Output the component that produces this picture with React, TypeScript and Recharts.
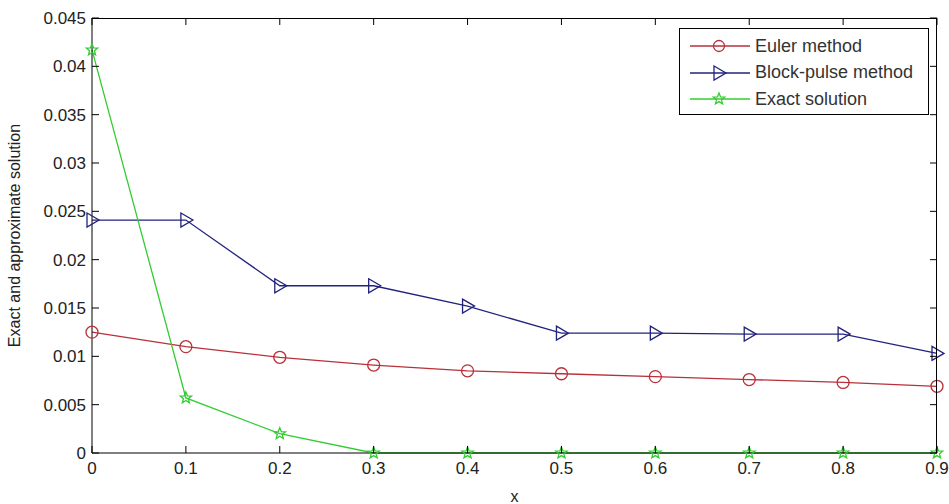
import React from 'react';
import { LineChart, Line, XAxis, YAxis, Legend } from 'recharts';

const xValues = [0, 0.1, 0.2, 0.3, 0.4, 0.5, 0.6, 0.7, 0.8, 0.9];
const eulerValues = [0.0125, 0.011, 0.0099, 0.0091, 0.0085, 0.0082, 0.0079, 0.0076, 0.0073, 0.0069];
const blockPulseValues = [0.0241, 0.0241, 0.0173, 0.0173, 0.0152, 0.0124, 0.0124, 0.0123, 0.0123, 0.0103];
const exactValues = [0.0417, 0.0057, 0.002, 0, 0, 0, 0, 0, 0, 0];

const xTicks = [0, 0.1, 0.2, 0.3, 0.4, 0.5, 0.6, 0.7, 0.8, 0.9];
const yTicks = [0, 0.005, 0.01, 0.015, 0.02, 0.025, 0.03, 0.035, 0.04, 0.045];
const X_MAX = 0.9;
const Y_MAX = 0.045;

const RED = '#b8303a';
const BLUE = '#22227e';
const GREEN = '#33cc33';
const FONT = '"Liberation Sans", Arial, sans-serif';
const TICK_LEN = 7;

const CHART_W = 949;
const CHART_H = 504;
const MARGIN = { top: 18, right: 12, left: 0, bottom: 0 };
const Y_AXIS_W = 92;
const X_AXIS_H = 51;
const PLOT_W = CHART_W - MARGIN.left - MARGIN.right - Y_AXIS_W;
const PLOT_H = CHART_H - MARGIN.top - MARGIN.bottom - X_AXIS_H;

const data = xValues.map((x, i) => ({
  x,
  euler: eulerValues[i],
  block: blockPulseValues[i],
  exact: exactValues[i],
}));

const fmt = (v: number) => String(parseFloat(v.toFixed(4)));

const Triangle = ({ cx, cy, color }: any) => (
  <polygon
    points={`${cx - 5},${cy - 7} ${cx + 7},${cy} ${cx - 5},${cy + 7}`}
    fill="none"
    stroke={color}
    strokeWidth={1.3}
  />
);

const Star = ({ cx, cy, color }: any) => {
  const pts: string[] = [];
  for (let k = 0; k < 10; k++) {
    const r = k % 2 === 0 ? 6 : 2.6;
    const a = -Math.PI / 2 + (k * Math.PI) / 5;
    pts.push(`${cx + r * Math.cos(a)},${cy + r * Math.sin(a)}`);
  }
  return <polygon points={pts.join(' ')} fill="none" stroke={color} strokeWidth={1.3} />;
};

const BottomTick = ({ x, y, payload }: any) => (
  <g>
    <line x1={x} y1={y} x2={x} y2={y - TICK_LEN} stroke="#000" />
    <text x={x} y={y + 21} textAnchor="middle" fontSize={17} fontFamily={FONT} fill="#222">
      {fmt(payload.value)}
    </text>
  </g>
);

const LeftTick = ({ x, y, payload }: any) => (
  <g>
    <line x1={x} y1={y} x2={x + TICK_LEN} y2={y} stroke="#000" />
    <text x={x - 6} y={y + 6} textAnchor="end" fontSize={17} fontFamily={FONT} fill="#222">
      {fmt(payload.value)}
    </text>
  </g>
);

const legendItems = [
  { name: 'Euler method', color: RED, marker: 'circle' },
  { name: 'Block-pulse method', color: BLUE, marker: 'triangle' },
  { name: 'Exact solution', color: GREEN, marker: 'star' },
];

const LegendBox = () => (
  <div
    style={{
      border: '1px solid #000',
      background: '#fff',
      width: 250,
      height: 87,
      boxSizing: 'border-box',
      paddingTop: 4,
    }}
  >
    {legendItems.map((it) => (
      <div key={it.name} style={{ display: 'flex', alignItems: 'center', height: 26.5 }}>
        <svg width={74} height={20} style={{ marginLeft: 10 }}>
          <line x1={0} y1={10} x2={60} y2={10} stroke={it.color} strokeWidth={1.3} />
          {it.marker === 'circle' && <circle cx={29} cy={10} r={5.5} fill="none" stroke={it.color} strokeWidth={1.3} />}
          {it.marker === 'triangle' && <Triangle cx={29} cy={10} color={it.color} />}
          {it.marker === 'star' && <Star cx={29} cy={10} color={it.color} />}
        </svg>
        <span style={{ fontFamily: FONT, fontSize: 18, color: '#333', marginLeft: -9 }}>{it.name}</span>
      </div>
    ))}
  </div>
);

// top and right frame edges with inward ticks, laid over the chart
const Frame = () => (
  <svg
    width={CHART_W}
    height={CHART_H}
    style={{ position: 'absolute', left: 0, top: 0, pointerEvents: 'none', zIndex: 5 }}
  >
    <line x1={Y_AXIS_W} y1={MARGIN.top + 0.5} x2={Y_AXIS_W + PLOT_W} y2={MARGIN.top + 0.5} stroke="#000" />
    <line x1={Y_AXIS_W + PLOT_W - 0.5} y1={MARGIN.top} x2={Y_AXIS_W + PLOT_W - 0.5} y2={MARGIN.top + PLOT_H} stroke="#000" />
    {xTicks.map((t) => {
      const px = Y_AXIS_W + (PLOT_W * t) / X_MAX;
      return <line key={'t' + t} x1={px} y1={MARGIN.top} x2={px} y2={MARGIN.top + TICK_LEN} stroke="#000" />;
    })}
    {yTicks.map((t) => {
      const py = MARGIN.top + PLOT_H - (PLOT_H * t) / Y_MAX;
      return (
        <line
          key={'r' + t}
          x1={Y_AXIS_W + PLOT_W}
          y1={py}
          x2={Y_AXIS_W + PLOT_W - TICK_LEN}
          y2={py}
          stroke="#000"
        />
      );
    })}
  </svg>
);

export default function App() {
  return (
    <div style={{ position: 'absolute', left: 0, top: 0, width: CHART_W, height: CHART_H, background: '#fff' }}>
      <LineChart width={CHART_W} height={CHART_H} data={data} margin={MARGIN}>
        <XAxis
          dataKey="x"
          type="number"
          domain={[0, X_MAX]}
          ticks={xTicks}
          tickSize={0}
          tickMargin={0}
          tickLine={false}
          tick={<BottomTick />}
          height={X_AXIS_H}
          stroke="#000"
          interval={0}
          label={{ value: 'x', position: 'insideBottom', offset: 2, fontSize: 16, fontFamily: FONT, fill: '#222' }}
        />
        <YAxis
          type="number"
          domain={[0, Y_MAX]}
          ticks={yTicks}
          tickSize={0}
          tickMargin={0}
          tickLine={false}
          tick={<LeftTick />}
          width={Y_AXIS_W}
          stroke="#000"
          interval={0}
          label={{
            value: 'Exact and approximate solution',
            angle: -90,
            position: 'insideLeft',
            offset: 14,
            style: { textAnchor: 'middle', fontSize: 16, fontFamily: FONT, fill: '#222' },
          }}
        />
        <Legend
          layout="horizontal"
          verticalAlign="middle"
          align="center"
          content={<LegendBox />}
          wrapperStyle={{ position: 'absolute', top: 28, left: 679, width: 250, height: 87 }}
        />
        <Line
          dataKey="euler"
          name="Euler method"
          stroke={RED}
          strokeWidth={1.3}
          dot={{ r: 6, stroke: RED, strokeWidth: 1.3, fill: 'none' }}
          isAnimationActive={false}
        />
        <Line
          dataKey="block"
          name="Block-pulse method"
          stroke={BLUE}
          strokeWidth={1.3}
          dot={(p: any) => <Triangle key={p.index} cx={p.cx} cy={p.cy} color={BLUE} />}
          isAnimationActive={false}
        />
        <Line
          dataKey="exact"
          name="Exact solution"
          stroke={GREEN}
          strokeWidth={1.3}
          dot={(p: any) => <Star key={p.index} cx={p.cx} cy={p.cy} color={GREEN} />}
          isAnimationActive={false}
        />
      </LineChart>
      <Frame />
    </div>
  );
}
